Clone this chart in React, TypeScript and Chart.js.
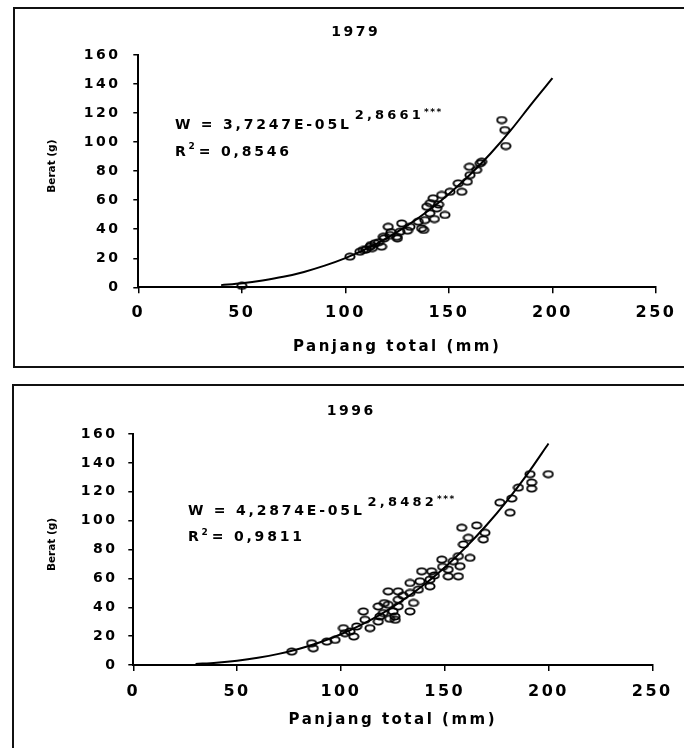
import React, { useEffect, useRef } from 'react';
import { Chart, registerables } from 'chart.js';

Chart.register(...registerables);

// ---------------- data ----------------
const xTickValues = [0, 50, 100, 150, 200, 250];
const yTickValues = [0, 20, 40, 60, 80, 100, 120, 140, 160];
const xAxisTitle = 'Panjang total (mm)';
const yAxisTitle = 'Berat (g)';
const significance = '***';

const title1979 = '1979';
const equation1979 = 'W = 3,7247E-05L';
const exponent1979 = '2,8661';
const r2Text1979 = '= 0,8546';
const length1979 = [102.2, 107, 108.6, 110, 111.9, 112.4, 113, 114.3, 116, 117.5, 118.3, 118.8, 120.7, 121.5, 122, 124.8, 125.1, 126.4, 127.2, 130, 131.2, 135.2, 136.8, 137.8, 138.4, 139.3, 140.8, 141, 142.4, 143, 144.1, 145, 146.5, 148.1, 150.5, 154.5, 156.2, 158.9, 159.9, 160.2, 163.4, 165.1, 165.8, 175.5, 177, 177.5, 50];
const weight1979 = [21.1, 24.5, 25.7, 26, 28, 29.1, 27, 30.3, 31, 28, 34.8, 33.7, 41.7, 36, 38, 34.8, 33.7, 38.3, 44, 39, 41.7, 45.2, 40.6, 39.5, 46.3, 55.5, 51, 58, 61.3, 47, 54.4, 57, 63.6, 49.8, 65.8, 71.6, 65.8, 72.7, 83, 77.3, 80.8, 85.4, 86.5, 115.2, 108.3, 97.3, 1];
const curveLength1979 = [40, 50, 60, 70, 80, 90, 100, 110, 120, 130, 140, 150, 160, 170, 180, 190, 200];
const curveWeight1979 = [1.5, 2.8, 4.7, 7.2, 10.6, 14.9, 20.1, 26.4, 33.9, 42.6, 52.7, 64.3, 77.3, 92.0, 108.4, 126.5, 144];

const title1996 = '1996';
const equation1996 = 'W = 4,2874E-05L';
const exponent1996 = '2,8482';
const r2Text1996 = '= 0,9811';
const length1996 = [76.3, 85.9, 86.7, 93.2, 97.2, 101.2, 102, 104.4, 106.2, 107.6, 110.8, 111.6, 114, 118, 118, 118.8, 120.4, 120.9, 122.8, 122.8, 123.5, 125.1, 126, 126.2, 127.6, 127.6, 127.6, 130, 133.3, 133.3, 133.3, 135, 137.3, 138.1, 138.9, 142.9, 142.9, 143.7, 145, 148.6, 149, 151.7, 151.7, 154.1, 156.6, 156.6, 157.4, 158.2, 159, 161.4, 162.2, 165.4, 168.6, 169.4, 176.6, 181.5, 182.3, 185.5, 191.1, 191.9, 191.9, 199.9];
const weight1996 = [9.3, 15.1, 11.6, 16.2, 17.4, 25.5, 22, 23.2, 19.7, 26.7, 37.1, 31.3, 25.5, 40.6, 30.1, 33.6, 36, 42.9, 51, 41.7, 32, 37.1, 33.6, 31.3, 51, 45.2, 40.6, 48, 56.8, 49.9, 37.1, 43, 52.2, 58, 64.9, 59.1, 54.5, 64.9, 62, 73, 68, 66.1, 61.4, 71.9, 75.4, 61.4, 68.4, 95.1, 83.5, 88.1, 74.2, 96.7, 87, 91.6, 112.5, 105.5, 115.3, 122.9, 132.2, 126.4, 122.2, 132.2];
const curveLength1996 = [30, 40, 50, 60, 70, 80, 90, 100, 110, 120, 130, 140, 150, 160, 170, 180, 190, 200];
const curveWeight1996 = [0.7, 1.6, 3.0, 5.0, 7.7, 11.3, 15.8, 21.3, 28.0, 35.8, 45.0, 55.6, 67.6, 81.3, 96.6, 113.7, 132.6, 153.4];

// ---------------- layout / style ----------------
const FONT = '"DejaVu Sans", "Liberation Sans", sans-serif';
const W = 684;

const panels = [
  {
    title: title1979, equation: equation1979, exponent: exponent1979, r2: r2Text1979,
    lengths: length1979, weights: weight1979, curveL: curveLength1979, curveW: curveWeight1979,
    canvasTop: 0, height: 376, left: 138.3, right: 656, top: 55, bottom: 287.3,
    xTickPad: 10, yTickPad: 12.8, xTitlePad: 20.3,
    titleAt: 105, eqL: 17.7, eqW: 111.8, r2W: 93.2,
  },
  {
    title: title1996, equation: equation1996, exponent: exponent1996, r2: r2Text1996,
    lengths: length1996, weights: weight1996, curveL: curveLength1996, curveW: curveWeight1996,
    canvasTop: 376, height: 372, left: 133.3, right: 652.3, top: 58, bottom: 289,
    xTickPad: 11.4, yTickPad: 10.8, xTitlePad: 19.3,
    titleAt: 105, eqL: 26.3, eqW: 106.4, r2W: 88.3,
  },
];

function makeEllipse() {
  const c = document.createElement('canvas');
  c.width = 12;
  c.height = 9;
  const g = c.getContext('2d')!;
  g.beginPath();
  g.ellipse(6, 4.5, 4.6, 3.1, 0, 0, Math.PI * 2);
  g.lineWidth = 1.9;
  g.strokeStyle = '#000';
  g.stroke();
  return c;
}

function drawText(ctx: any, text: string, x: number, y: number, size: number, spacing: number, align: string = 'left') {
  ctx.save();
  ctx.font = `bold ${size}px ${FONT}`;
  ctx.letterSpacing = `${spacing}px`;
  ctx.textAlign = align;
  ctx.textBaseline = 'middle';
  ctx.fillStyle = '#000';
  ctx.fillText(text, x, y);
  const w = ctx.measureText(text).width;
  ctx.restore();
  return w;
}

function Panel({ cfg }: { cfg: any }) {
  const ref = useRef<HTMLCanvasElement>(null);
  useEffect(() => {
    const canvas = ref.current!;
    const ellipse = makeEllipse();
    const textPlugin = {
      id: 'panelText',
      beforeDraw(chart: any) {
        chart.ctx.letterSpacing = '2.5px';
      },
      afterDraw(chart: any) {
        const { ctx, chartArea, scales } = chart;
        const xs = scales.x;
        const ys = scales.y;
        ctx.letterSpacing = '0px';
        drawText(ctx, cfg.title, xs.getPixelForValue(cfg.titleAt), chartArea.top - 23, 14, 2.5, 'center');
        ctx.save();
        ctx.translate(52, (chartArea.top + chartArea.bottom) / 2 - 5);
        ctx.rotate(-Math.PI / 2);
        drawText(ctx, yAxisTitle, 0, 0, 10.5, 0, 'center');
        ctx.restore();
        const x0 = xs.getPixelForValue(cfg.eqL);
        const yMain = ys.getPixelForValue(cfg.eqW);
        const w1 = drawText(ctx, cfg.equation, x0, yMain, 14, 2.8);
        const wSup = drawText(ctx, cfg.exponent, x0 + w1 + 3, yMain - 9, 13, 3.2);
        drawText(ctx, significance, x0 + w1 + 3 + wSup, yMain - 12, 9, 1.5);
        const yR = ys.getPixelForValue(cfg.r2W);
        const wR = drawText(ctx, 'R', x0, yR, 14, 2.8);
        const w2 = drawText(ctx, '2', x0 + wR, yR - 5, 9, 1);
        drawText(ctx, cfg.r2, x0 + wR + w2 + 3, yR, 14, 2.8);
      },
    };
    const points = cfg.lengths.map((l: number, i: number) => ({ x: l, y: cfg.weights[i] }));
    const curve = cfg.curveL.map((l: number, i: number) => ({ x: l, y: cfg.curveW[i] }));
    const chart = new Chart(canvas, {
      type: 'scatter',
      data: {
        datasets: [
          {
            type: 'scatter',
            data: points,
            pointStyle: ellipse as any,
            pointRadius: 5,
            clip: false as any,
            order: 0,
          },
          {
            type: 'line',
            data: curve,
            borderColor: '#000',
            borderWidth: 2,
            pointRadius: 0,
            fill: false,
            cubicInterpolationMode: 'monotone',
            order: 1,
          } as any,
        ],
      },
      options: {
        animation: false,
        responsive: false,
        devicePixelRatio: 1,
        layout: { padding: { left: 0, top: cfg.top, right: W - cfg.right, bottom: 0 } },
        plugins: { legend: { display: false }, tooltip: { enabled: false }, title: { display: false } },
        scales: {
          x: {
            type: 'linear',
            min: 0,
            max: 250,
            afterBuildTicks: (s: any) => { s.ticks = xTickValues.map((v) => ({ value: v })); },
            afterFit: (s: any) => { s.height = cfg.height - cfg.bottom; },
            grid: { drawOnChartArea: false, drawTicks: true, tickLength: 6, color: '#000', lineWidth: 1.5 },
            border: { display: true, color: '#000', width: 2 },
            ticks: { font: { family: FONT, size: 16, weight: 'bold' }, color: '#000', padding: cfg.xTickPad, maxRotation: 0, autoSkip: false },
            title: { display: true, text: xAxisTitle, font: { family: FONT, size: 15, weight: 'bold' }, color: '#000', padding: { top: 0, bottom: cfg.xTitlePad } },
          },
          y: {
            type: 'linear',
            min: 0,
            max: 160,
            afterBuildTicks: (s: any) => { s.ticks = yTickValues.map((v) => ({ value: v })); },
            afterFit: (s: any) => { s.width = cfg.left; },
            grid: { drawOnChartArea: false, drawTicks: true, tickLength: 5, color: '#000', lineWidth: 1.5 },
            border: { display: true, color: '#000', width: 2 },
            ticks: { font: { family: FONT, size: 14, weight: 'bold' }, color: '#000', padding: cfg.yTickPad, autoSkip: false },
          },
        },
      } as any,
      plugins: [textPlugin],
    });
    return () => chart.destroy();
  }, []);
  return (
    <canvas
      ref={ref}
      width={W}
      height={cfg.height}
      style={{ position: 'absolute', left: 0, top: cfg.canvasTop, width: W, height: cfg.height }}
    />
  );
}

export default function App() {
  return (
    <div style={{ position: 'absolute', left: 0, top: 0, width: W, height: 748, overflow: 'hidden', background: '#fff' }}>
      <Panel cfg={panels[0]} />
      <Panel cfg={panels[1]} />
      <div style={{ position: 'absolute', left: 13, top: 7, width: 700, height: 361, border: '2px solid #111', boxSizing: 'border-box', pointerEvents: 'none' }} />
      <div style={{ position: 'absolute', left: 12, top: 384, width: 700, height: 420, border: '2px solid #111', boxSizing: 'border-box', pointerEvents: 'none' }} />
    </div>
  );
}
